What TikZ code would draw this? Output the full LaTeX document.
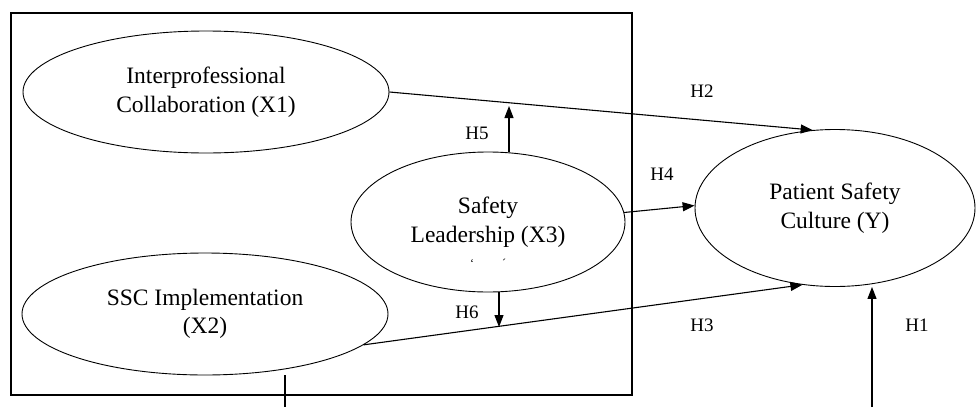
\documentclass[tikz,border=0pt]{standalone}
\usepackage{fontspec}
\setmainfont{Liberation Serif}
\usetikzlibrary{shapes.geometric,arrows.meta}
\tikzset{
  ell/.style={draw, ellipse, line width=0.9pt, inner sep=0pt, align=center,
    font=\fontsize{23.5}{28.5}\selectfont},
  arr/.style={line width=1.1pt, -{Triangle[length=12pt,width=9pt]}},
  plain/.style={line width=1.1pt},
  frame/.style={line width=2pt},
  hlab/.style={inner sep=0pt, font=\fontsize{19}{22}\selectfont},
  tick/.style={inner sep=0pt, font=\fontsize{12}{12}\selectfont}
}
\begin{document}
\begin{tikzpicture}[x=1pt,y=-1pt]
\useasboundingbox (0,0) rectangle (976,407);
\draw[frame] (11,13) rectangle (632,395);

\node[ell, minimum width=366pt, minimum height=122pt] (X1) at (206,92) {Interprofessional\\Collaboration (X1)};
\node[ell, minimum width=366pt, minimum height=122pt] (X2) at (205,314) {SSC Implementation\\(X2)};
\node[ell, minimum width=274pt, minimum height=140pt] (X3) at (488,222) {Safety\\Leadership (X3)};
\node[ell, minimum width=280pt, minimum height=157pt] (Y) at (835,208) {Patient Safety\\Culture (Y)};

\node[tick] (m1) at (472,263) {`};
\node[tick] (m2) at (504,263) {´};

\coordinate (h5tip) at (509,106);
\coordinate (h6tip) at (499,327);
\coordinate (h1s) at (872,407);
\coordinate (x2l) at (285,407);

\draw[arr] (X1.east) -- (Y.106.5);
\draw[arr] (X3.4) -- (Y.179);
\draw[arr] (X2.-11.3) -- (Y.247);
\draw[arr] (h1s) -- (h1s |- Y.south);
\draw[arr] (h5tip |- X3.north) -- (h5tip);
\draw[arr] (h6tip |- X3.south) -- (h6tip);
\draw[plain] (x2l |- X2.south) -- (x2l);

\node[hlab] (H2) at (702,91) {H2};
\node[hlab] (H4) at (662,174) {H4};
\node[hlab] (H5) at (477,133) {H5};
\node[hlab] (H6) at (467,312) {H6};
\node[hlab] (H3) at (702,325) {H3};
\node[hlab] (H1) at (917,325) {H1};
\end{tikzpicture}
\end{document}
